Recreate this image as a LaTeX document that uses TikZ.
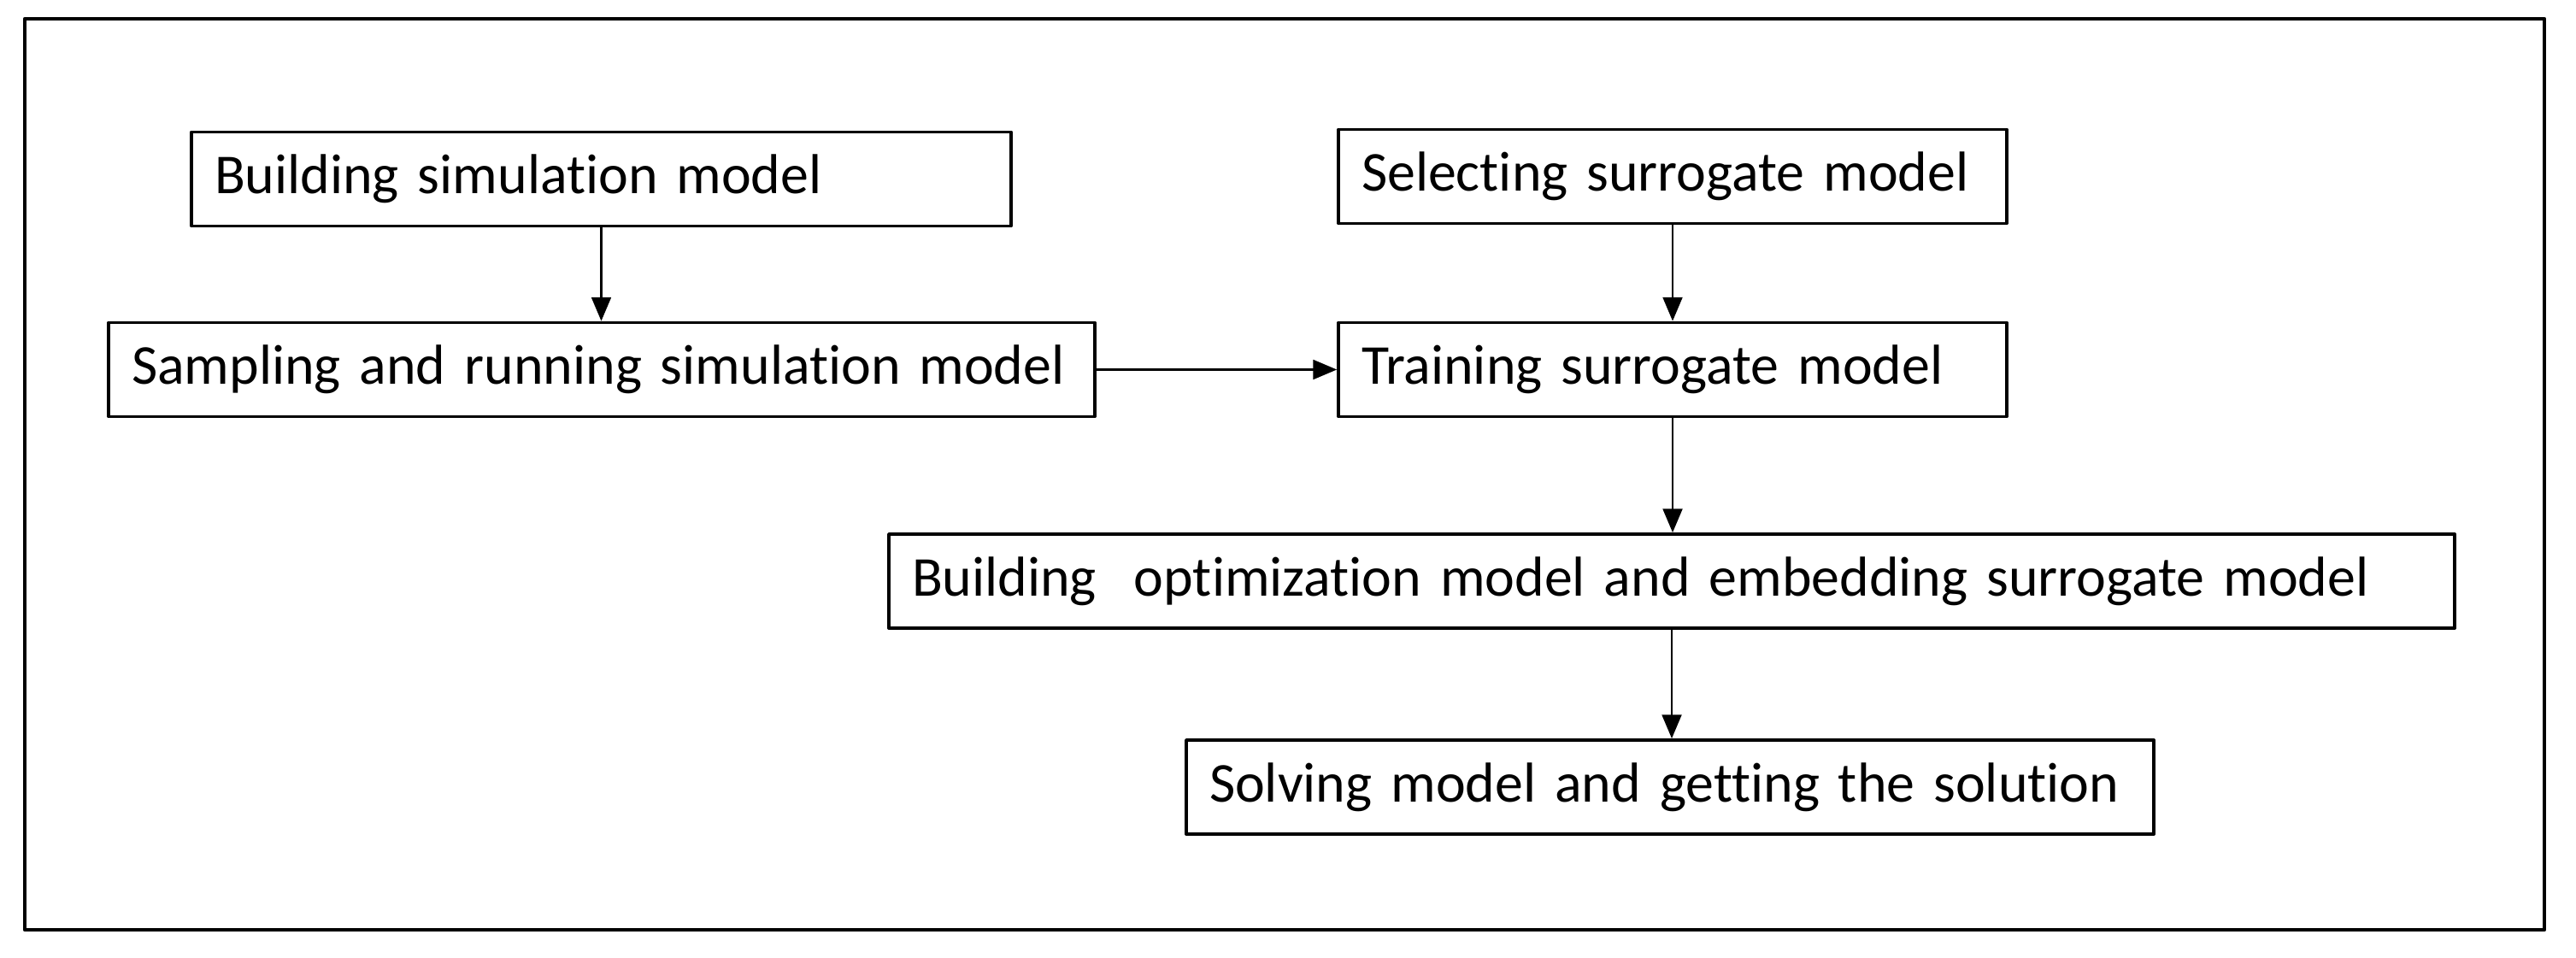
\documentclass[tikz,border=0pt]{standalone}
\usepackage{fontspec}
\setmainfont{Carlito}[Ligatures=NoCommon]
\usepackage{tikz}
\usetikzlibrary{arrows}

\begin{document}
\begin{tikzpicture}[line cap=round,line join=round,>=triangle 45,x=1.0cm,y=1.0cm,
    stage/.style={draw,line width=1.1pt,minimum height=1.1cm,inner xsep=0.27cm,inner ysep=0pt,align=left,font=\fontsize{18.75}{23}\selectfont},
    flow/.style={->,line width=0.8pt}]
      \useasboundingbox (0.,0.) rectangle (30.14,11.2);
      \draw [line width=1.2pt] (0.29,0.32) rectangle (29.77,10.98);
      % left column
      \node [stage,text width=9.05cm] (buildsim) at (7.035,9.105) {\mbox{Building simulation model}};
      \node [stage,text width=11.0cm] (sampling) at (7.04,6.875) {\mbox{Sampling and running simulation model}};
      % right column
      \node [stage,text width=7.28cm] (selecting) at (19.57,9.135) {\mbox{Selecting surrogate model}};
      \node [stage,text width=7.28cm] (training) at (19.57,6.875) {\mbox{Training surrogate model}};
      \node [stage,text width=17.78cm] (buildopt) at (19.56,4.40) {\mbox{Building\ \ optimization model and embedding surrogate model}};
      \node [stage,text width=10.78cm] (solving) at (19.54,1.99) {\mbox{Solving model and getting the solution}};
      % arrows
      \draw [flow] (buildsim.south) -- (buildsim.south |- sampling.north);
      \draw [flow] (sampling.east) -- (training.west);
      \draw [flow] (selecting.south) -- (selecting.south |- training.north);
      \draw [flow] (training.south) -- (training.south |- buildopt.north);
      \draw [flow] (buildopt.south) -- (buildopt.south |- solving.north);
    \end{tikzpicture}
\end{document}
